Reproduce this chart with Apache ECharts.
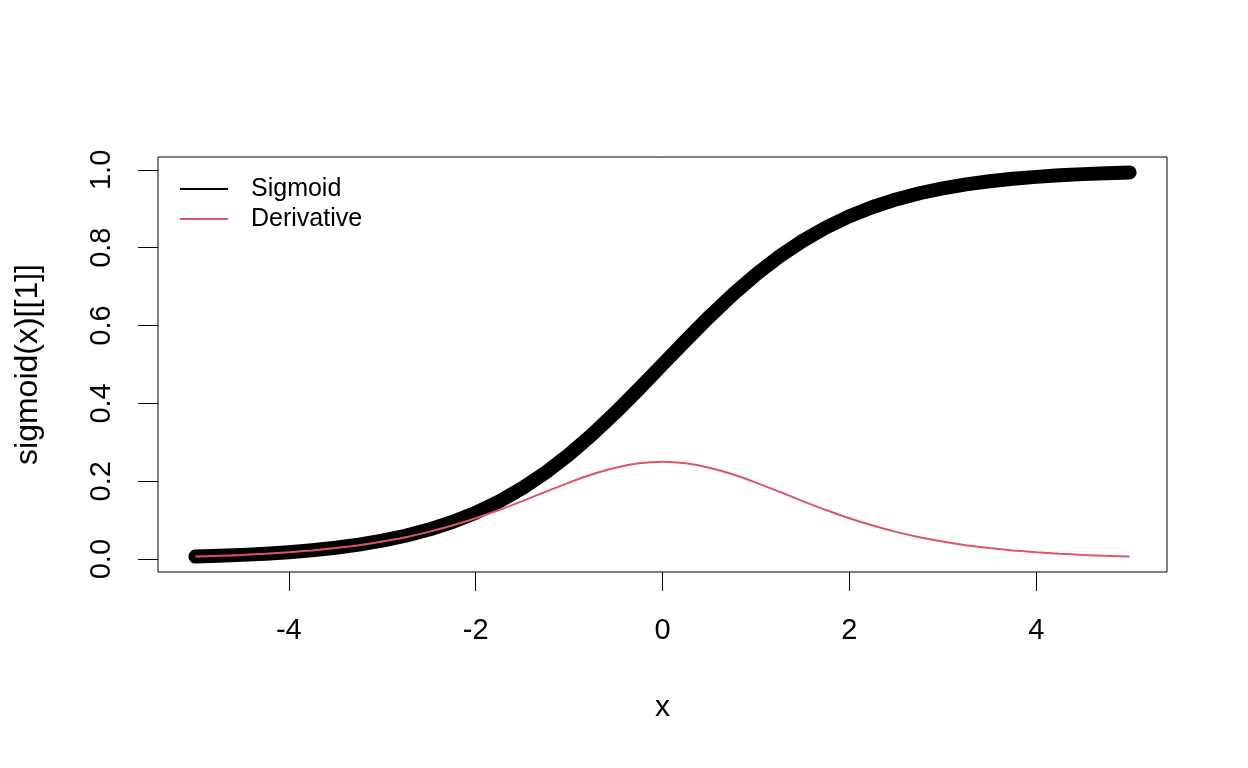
<!DOCTYPE html>
<html>
<head>
<meta charset="utf-8">
<script src="https://cdn.jsdelivr.net/npm/echarts@6/dist/echarts.min.js"></script>
<style>html,body{margin:0;padding:0;background:#fff}#c{width:1248px;height:768px}</style>
</head>
<body>
<div id="c"></div>
<script>
const xValues = [-5,-4.75,-4.5,-4.25,-4,-3.75,-3.5,-3.25,-3,-2.75,-2.5,-2.25,-2,-1.75,-1.5,-1.25,-1,-0.75,-0.5,-0.25,0,0.25,0.5,0.75,1,1.25,1.5,1.75,2,2.25,2.5,2.75,3,3.25,3.5,3.75,4,4.25,4.5,4.75,5];
const sigmoidValues = [0.0067,0.0086,0.0110,0.0140,0.0180,0.0230,0.0293,0.0373,0.0474,0.0601,0.0759,0.0954,0.1192,0.1480,0.1824,0.2227,0.2689,0.3208,0.3775,0.4378,0.5000,0.5622,0.6225,0.6792,0.7311,0.7773,0.8176,0.8520,0.8808,0.9046,0.9241,0.9399,0.9526,0.9627,0.9707,0.9770,0.9820,0.9860,0.9890,0.9914,0.9933];
const derivativeValues = [0.0066,0.0085,0.0109,0.0138,0.0177,0.0225,0.0285,0.0359,0.0452,0.0565,0.0701,0.0863,0.1050,0.1261,0.1491,0.1731,0.1966,0.2179,0.2350,0.2461,0.2500,0.2461,0.2350,0.2179,0.1966,0.1731,0.1491,0.1261,0.1050,0.0863,0.0701,0.0565,0.0452,0.0359,0.0285,0.0225,0.0177,0.0138,0.0109,0.0085,0.0066];
const xTicks = [-4,-2,0,2,4];
const yTicks = [0,0.2,0.4,0.6,0.8,1.0];
const seriesNames = ['Sigmoid','Derivative'];

const FONT = '"Liberation Sans", Arial, Helvetica, sans-serif';
const chart = echarts.init(document.getElementById('c'), null, {renderer:'canvas'});
chart.setOption({
  animation: false,
  backgroundColor: '#fff',
  grid: {left:158, right:81, top:157, bottom:196, show:true, borderColor:'#000', borderWidth:1, backgroundColor:'transparent'},
  legend: {
    orient:'vertical', left:175, top:169, itemGap:0, itemWidth:48, itemHeight:2, icon:'rect',
    data: seriesNames,
    textStyle: {fontFamily:FONT, fontSize:25, color:'#000', lineHeight:30, padding:[0,0,0,18]}
  },
  xAxis: {
    type:'value', min:-5.4, max:5.4,
    name:'x', nameLocation:'middle', nameGap:121,
    nameTextStyle:{fontFamily:FONT, fontSize:30, color:'#000'},
    axisLine:{show:false, onZero:false},
    splitLine:{show:false},
    axisTick:{show:true, customValues:xTicks, length:19, lineStyle:{color:'#000', width:1}},
    axisLabel:{customValues:xTicks, margin:44, fontFamily:FONT, fontSize:29, color:'#000', formatter: v => String(v)}
  },
  yAxis: {
    type:'value', min:-0.033, max:1.033,
    name:'sigmoid(x)[[1]]', nameLocation:'middle', nameGap:114, nameRotate:90,
    nameTextStyle:{fontFamily:FONT, fontSize:32, color:'#000'},
    axisLine:{show:false, onZero:false},
    splitLine:{show:false},
    axisTick:{show:true, customValues:yTicks, length:20, lineStyle:{color:'#000', width:1}},
    axisLabel:{customValues:yTicks, rotate:90, margin:42, fontFamily:FONT, fontSize:29, color:'#000', formatter: v => v.toFixed(1)}
  },
  series: [
    {name:seriesNames[0], type:'line', showSymbol:false, symbol:'none', color:'#000',
     data: xValues.map((x,i)=>[x, sigmoidValues[i]]),
     lineStyle:{color:'#000', width:14, cap:'round', join:'round'}, z:2},
    {name:seriesNames[1], type:'line', showSymbol:false, symbol:'none', color:'#DF536B', smooth:0.2,
     data: xValues.map((x,i)=>[x, derivativeValues[i]]),
     lineStyle:{color:'#DF536B', width:2}, z:3}
  ]
});
</script>
</body>
</html>
